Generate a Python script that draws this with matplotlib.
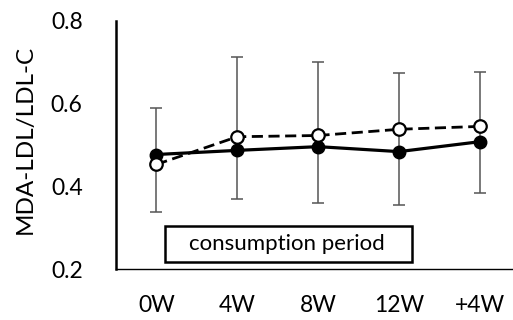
import numpy as np
import matplotlib
matplotlib.use("Agg")
import matplotlib.pyplot as plt
from matplotlib.patches import Rectangle

# data
weeks = ["0W", "4W", "8W", "12W", "+4W"]
solid = [0.477, 0.487, 0.496, 0.484, 0.508]
dashed = [0.453, 0.520, 0.523, 0.538, 0.545]
err_top = [0.589, 0.712, 0.700, 0.673, 0.676]
err_bottom = [0.338, 0.370, 0.360, 0.355, 0.384]

plt.rcParams['font.family'] = ['Lato', 'DejaVu Sans']

fig = plt.figure(figsize=(5.13, 3.2), dpi=100)
ax = fig.add_axes([116/513, 1 - 269/320, 1 - 116/513, (269 - 21)/320])

x = np.arange(len(weeks))
mid = (np.array(err_top) + np.array(err_bottom)) / 2
yerr = [mid - np.array(err_bottom), np.array(err_top) - mid]
ax.errorbar(x, mid, yerr=yerr, fmt='none', ecolor='#555555', elinewidth=1.1,
            capsize=4, capthick=1.1, zorder=1)

ax.plot(x, solid, '-', color='black', lw=2.3, marker='o', ms=9,
        mfc='black', mec='black', zorder=3)
ax.plot(x, dashed, '--', color='black', lw=2, dashes=(4, 2), marker='o', ms=9,
        mfc='white', mec='black', mew=1.6, zorder=4)

ax.set_xlim(-0.5, 4.41)
ax.set_ylim(0.2, 0.8)
ax.set_yticks([0.2, 0.4, 0.6, 0.8])
ax.set_yticklabels(["0.2", "0.4", "0.6", "0.8"])
ax.set_xticks(x)
ax.set_xticklabels(weeks)
ax.tick_params(axis='both', length=0, labelsize=16.5)
ax.tick_params(axis='x', pad=19)
ax.tick_params(axis='y', pad=24)

for side in ['top', 'right']:
    ax.spines[side].set_visible(False)
ax.spines['left'].set_linewidth(1.8)
ax.spines['bottom'].set_linewidth(1.0)

fig.text(25/513, 1 - 139/320, "MDA-LDL/LDL-C", rotation=90, fontsize=17.5,
         ha='center', va='center')

# "consumption period" box
ax.add_patch(Rectangle((0.11, 0.217), 3.05, 0.087, fc='white', ec='black',
                       lw=1.8, zorder=5))
ax.text(1.61, 0.261, "consumption period", fontsize=16, ha='center',
        va='center', zorder=6)

fig.savefig("out.png", dpi=100)
